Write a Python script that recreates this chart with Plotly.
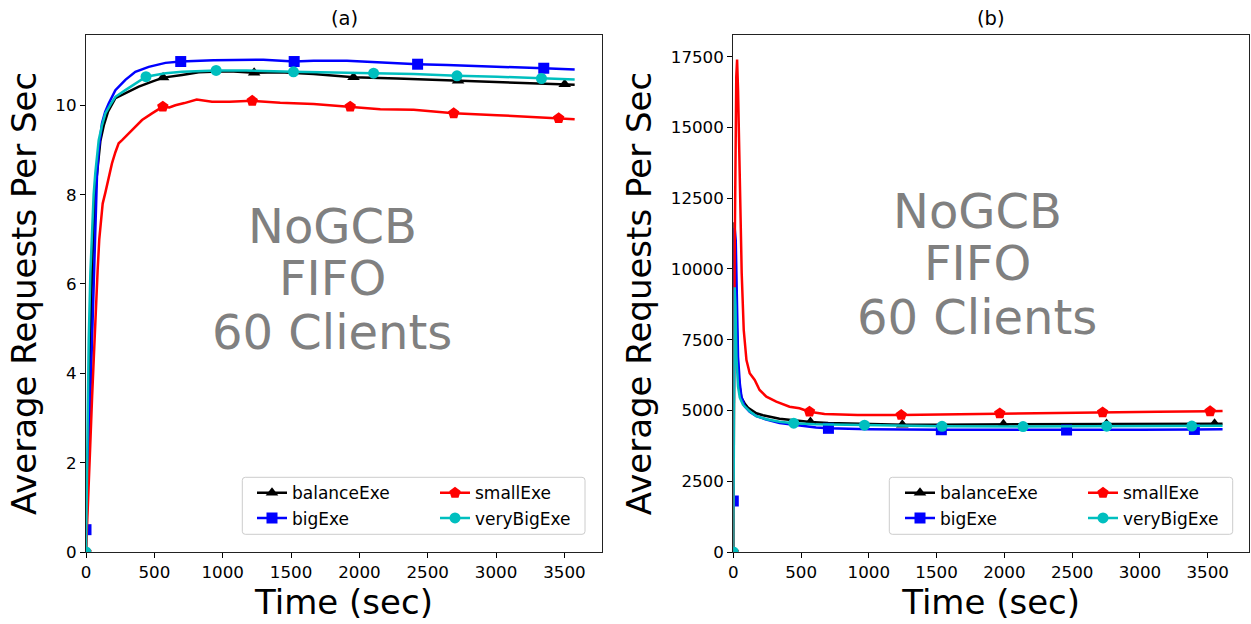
import plotly.graph_objects as go

# ---------------- data ----------------
series_names = ["balanceExe", "bigExe", "smallExe", "veryBigExe"]

# (a) average requests per second
t_bal_a = [0, 10, 20, 30, 40, 50, 60, 75, 90, 105, 130, 160, 215, 288, 386, 483, 564, 703, 825, 922,
           1050, 1230, 1421, 1665, 1957, 2275, 2722, 3129, 3502, 3575]
v_bal_a = [0, 1.6, 3.2, 4.6, 5.8, 6.8, 7.6, 8.3, 8.8, 9.2, 9.55, 9.85, 10.16, 10.27, 10.42, 10.53, 10.62,
           10.68, 10.74, 10.75, 10.76, 10.73, 10.74, 10.70, 10.63, 10.60, 10.55, 10.51, 10.47, 10.46]
mk_bal_a = [0, 564, 1230, 1957, 2722, 3502]

t_big_a = [0, 10, 20, 30, 44, 56, 68, 80, 93, 117, 140, 166, 215, 288, 361, 459, 581, 693, 932, 1298,
           1523, 1665, 1909, 2153, 2426, 2641, 2885, 3129, 3349, 3575]
v_big_a = [0.5, 1.2, 2.2, 3.3, 4.75, 6.2, 7.6, 8.4, 9.0, 9.6, 9.85, 10.04, 10.34, 10.57, 10.75, 10.86,
           10.95, 10.98, 11.01, 11.02, 10.98, 11.0, 11.0, 10.96, 10.92, 10.9, 10.88, 10.86, 10.83, 10.80]
mk_big_a = [0, 693, 1523, 2426, 3349]

t_small_a = [0, 15, 30, 45, 61, 72, 85, 97, 110, 122, 142, 165, 190, 215, 239, 264, 312, 360, 410, 483,
             562, 610, 654, 720, 810, 922, 1050, 1216, 1421, 1665, 1933, 2153, 2397, 2690, 3008, 3458, 3575]
v_small_a = [0, 1.0, 2.3, 3.5, 4.75, 5.5, 6.3, 7.0, 7.5, 7.8, 8.05, 8.4, 8.7, 8.95, 9.15, 9.22, 9.37, 9.5,
             9.67, 9.82, 9.97, 9.95, 10.0, 10.05, 10.13, 10.08, 10.08, 10.10, 10.06, 10.03, 9.97, 9.91,
             9.90, 9.82, 9.78, 9.71, 9.69]
mk_small_a = [0, 562, 1216, 1933, 2690, 3458]

t_vbig_a = [0, 5, 10, 15, 20, 32, 44, 56, 68, 80, 93, 117, 142, 180, 215, 288, 361, 439, 581, 703,
            952, 1177, 1518, 1787, 2104, 2397, 2714, 3008, 3332, 3575]
v_vbig_a = [0, 1.5, 2.8, 3.9, 4.75, 6.24, 7.36, 8.0, 8.48, 8.9, 9.22, 9.55, 9.82, 10.02, 10.19, 10.34,
            10.49, 10.64, 10.72, 10.75, 10.78, 10.78, 10.75, 10.74, 10.72, 10.70, 10.66, 10.64, 10.60, 10.58]
mk_vbig_a = [0, 439, 952, 1518, 2104, 2714, 3332]

# (b)
t_bal_b = [0, 8, 16, 25, 35, 48, 60, 84, 109, 170, 219, 341, 464, 569, 700, 1000, 1247, 1500, 1993,
           2500, 2754, 3100, 3551, 3610]
v_bal_b = [0, 11650, 9500, 7500, 6400, 5800, 5450, 5250, 5100, 4900, 4830, 4710, 4640, 4590, 4560, 4520,
           4500, 4500, 4510, 4515, 4520, 4525, 4535, 4535]
mk_bal_b = [0, 569, 1247, 1993, 2754, 3551]

t_big_b = [0, 10, 18, 23, 28, 35, 48, 60, 84, 121, 170, 244, 341, 464, 611, 702, 1000, 1535, 2000,
           2459, 3000, 3402, 3610]
v_big_b = [1800, 11450, 11000, 9250, 8100, 6900, 5960, 5490, 5150, 4950, 4800, 4680, 4560, 4480, 4400,
           4370, 4340, 4320, 4315, 4310, 4320, 4330, 4340]
mk_big_b = [0, 702, 1535, 2459, 3402]

t_small_b = [0, 10, 22, 28, 35, 43, 53, 62, 77, 97, 121, 158, 194, 244, 317, 415, 488, 562, 673, 917,
             1239, 1545, 1966, 2440, 2725, 3133, 3518, 3610]
v_small_b = [0, 10500, 16800, 17397, 16323, 14557, 12200, 9847, 7844, 6784, 6314, 6077, 5724, 5487,
             5310, 5134, 5076, 4957, 4876, 4840, 4840, 4860, 4895, 4918, 4930, 4955, 4970, 4982]
mk_small_b = [0, 562, 1239, 1966, 2725, 3518]

t_vbig_b = [0, 10, 16, 23, 35, 48, 72, 121, 170, 244, 341, 446, 600, 968, 1540, 2138, 2755, 3383, 3610]
v_vbig_b = [0, 9350, 8700, 6900, 5840, 5450, 5200, 4970, 4800, 4690, 4600, 4550, 4510, 4480, 4440,
            4430, 4445, 4450, 4460]
mk_vbig_b = [0, 446, 968, 1540, 2138, 2755, 3383]

x_ticks = [0, 500, 1000, 1500, 2000, 2500, 3000, 3500]
y_ticks_a = [0, 2, 4, 6, 8, 10]
y_ticks_b = [0, 2500, 5000, 7500, 10000, 12500, 15000, 17500]

panel_titles = ["(a)", "(b)"]
note_lines = ["NoGCB", "FIFO", "60 Clients"]
x_label = "Time (sec)"
y_label = "Average Requests Per Sec"

# ---------------- style ----------------
W, H = 1251, 624
FONT = "DejaVu Sans"
colors = {"balanceExe": "#000000", "bigExe": "#0000ff", "smallExe": "#ff0000", "veryBigExe": "#00bfbf"}
symbols = {"balanceExe": "triangle-up", "bigExe": "square", "smallExe": "pentagon", "veryBigExe": "circle"}
msize = {"balanceExe": 11, "bigExe": 11, "smallExe": 12, "veryBigExe": 11}
LW = 2.5

# axes boxes in pixels: (left, right, top, bottom)
box_a = (86, 602, 35, 552)
box_b = (733.3, 1249, 35, 552)


def px_x(p):
    return p / W


def px_y(p):
    return 1 - p / H


panels = [
    dict(name="a", xa="x", ya="y", box=box_a, xr=[0, 3775], yr=[0, 11.574], yt=y_ticks_a, note_y=6,
         data={"balanceExe": (t_bal_a, v_bal_a, mk_bal_a), "bigExe": (t_big_a, v_big_a, mk_big_a),
               "smallExe": (t_small_a, v_small_a, mk_small_a), "veryBigExe": (t_vbig_a, v_vbig_a, mk_vbig_a)},
         legends=("legend", "legend2"), leg_x=(252, 435), frame=(242.3, 585, 477.3, 534.3)),
    dict(name="b", xa="x2", ya="y2", box=box_b, xr=[0, 3805], yr=[0, 18267], yt=y_ticks_b, note_y=10000,
         data={"balanceExe": (t_bal_b, v_bal_b, mk_bal_b), "bigExe": (t_big_b, v_big_b, mk_big_b),
               "smallExe": (t_small_b, v_small_b, mk_small_b), "veryBigExe": (t_vbig_b, v_vbig_b, mk_vbig_b)},
         legends=("legend3", "legend4"), leg_x=(900, 1083), frame=(889.3, 1232.7, 477.3, 534.3)),
]

fig = go.Figure()

for p in panels:
    for name in series_names:
        t, v, mk = p["data"][name]
        idx = [t.index(m) for m in mk]
        fig.add_trace(go.Scatter(x=t, y=v, mode="lines", xaxis=p["xa"], yaxis=p["ya"],
                                 line=dict(color=colors[name], width=LW), showlegend=False,
                                 hoverinfo="skip"))
        fig.add_trace(go.Scatter(x=[t[i] for i in idx], y=[v[i] for i in idx], mode="markers",
                                 xaxis=p["xa"], yaxis=p["ya"], showlegend=False,
                                 marker=dict(color=colors[name], symbol=symbols[name], size=msize[name],
                                             line=dict(width=0))))
    # legend entries: column 1 = balanceExe, bigExe ; column 2 = smallExe, veryBigExe
    for col, names in enumerate([("balanceExe", "bigExe"), ("smallExe", "veryBigExe")]):
        for name in names:
            fig.add_trace(go.Scatter(x=[None], y=[None], mode="lines+markers", name=name,
                                     xaxis=p["xa"], yaxis=p["ya"], legend=p["legends"][col],
                                     line=dict(color=colors[name], width=LW),
                                     marker=dict(color=colors[name], symbol=symbols[name],
                                                 size=msize[name], line=dict(width=0))))

axis_common = dict(showline=True, linecolor="#222222", linewidth=1.2, mirror=True, ticks="outside",
                   ticklen=5, tickwidth=1, tickcolor="black", showgrid=False, zeroline=False,
                   tickformat="d",
                   tickfont=dict(family=FONT, size=16.7, color="black"),
                   title_font=dict(family=FONT, size=34, color="black"), automargin=False)

layout = dict(width=W, height=H, margin=dict(l=0, r=0, t=0, b=0), plot_bgcolor="white",
              paper_bgcolor="white", font=dict(family=FONT, color="black"))

annotations = []
shapes = []
for k, p in enumerate(panels):
    l, r, t_, b_ = p["box"]
    sx = "" if k == 0 else "2"
    layout["xaxis" + sx] = dict(axis_common, domain=[px_x(l), px_x(r)], range=p["xr"],
                                tickvals=x_ticks, anchor="y" + sx,
                                title=dict(text=x_label, standoff=6))
    layout["yaxis" + sx] = dict(axis_common, domain=[px_y(b_), px_y(t_)], range=p["yr"],
                                tickvals=p["yt"], anchor="x" + sx,
                                title=dict(text=y_label, standoff=8))
    # panel title
    annotations.append(dict(text=panel_titles[k], xref="paper", yref="paper", x=px_x((l + r) / 2),
                            y=px_y(18), xanchor="center", yanchor="middle", showarrow=False,
                            font=dict(family=FONT, size=19.5, color="black")))
    # centred note
    for line, shift in zip(note_lines, [58.2, 5.7, -48.5]):
        annotations.append(dict(text=line, xref=p["xa"], yref=p["ya"], x=1800, y=p["note_y"],
                                yshift=shift, xanchor="center", yanchor="middle", showarrow=False,
                                font=dict(family=FONT, size=48, color="#808080")))
    # legend frame with rounded corners
    fl, fr, ft, fb = p["frame"]
    rr = 3
    path = (f"M {px_x(fl + rr)},{px_y(ft)} L {px_x(fr - rr)},{px_y(ft)} "
            f"Q {px_x(fr)},{px_y(ft)} {px_x(fr)},{px_y(ft + rr)} L {px_x(fr)},{px_y(fb - rr)} "
            f"Q {px_x(fr)},{px_y(fb)} {px_x(fr - rr)},{px_y(fb)} L {px_x(fl + rr)},{px_y(fb)} "
            f"Q {px_x(fl)},{px_y(fb)} {px_x(fl)},{px_y(fb - rr)} L {px_x(fl)},{px_y(ft + rr)} "
            f"Q {px_x(fl)},{px_y(ft)} {px_x(fl + rr)},{px_y(ft)} Z")
    shapes.append(dict(type="path", path=path, xref="paper", yref="paper", layer="above",
                       line=dict(color="#cccccc", width=1), fillcolor="rgba(255,255,255,0.8)"))
    for col in range(2):
        layout[p["legends"][col]] = dict(x=px_x(p["leg_x"][col]), y=px_y(475.3), xanchor="left",
                                         yanchor="top", bgcolor="rgba(0,0,0,0)", borderwidth=0,
                                         font=dict(family=FONT, size=17, color="black"),
                                         tracegroupgap=0, itemclick=False, itemdoubleclick=False)

layout["annotations"] = annotations
layout["shapes"] = shapes
fig.update_layout(**layout)

fig.write_html("out.html")
